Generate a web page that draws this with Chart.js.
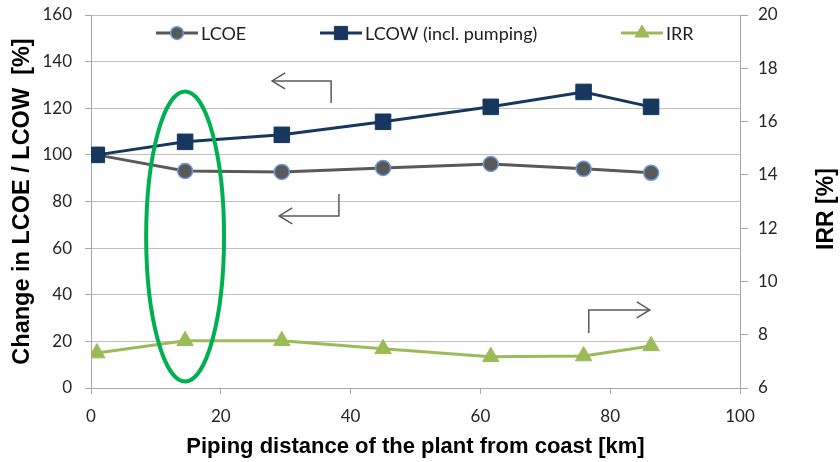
<!DOCTYPE html>
<html>
<head>
<meta charset="utf-8">
<script src="https://cdn.jsdelivr.net/npm/chart.js@4/dist/chart.umd.min.js"></script>
<style>
html,body{margin:0;padding:0;background:#fff;}
#wrap{width:840px;height:462px;position:relative;}
</style>
</head>
<body>
<div id="wrap"><canvas id="c" width="840" height="462"></canvas></div>
<script>
// ---- data ----
const distanceKm = [0.9, 14.5, 29.4, 45.0, 61.6, 75.9, 86.3];
const lcoeChange = [100, 93.1, 92.7, 94.4, 96.1, 94.0, 92.3];
const lcowChange = [100, 105.6, 108.6, 114.2, 120.6, 127.0, 120.6];
const irrPct = [7.31, 7.77, 7.77, 7.47, 7.17, 7.20, 7.58];
const seriesNames = ['LCOE', 'LCOW (incl. pumping)', 'IRR'];
const xTitle = 'Piping distance of the plant from coast [km]';
const yLeftTitle = 'Change in LCOE / LCOW  [%]';
const yRightTitle = 'IRR [%]';
// annotation shapes in data units (left axis)
const ellipseSpec = {cx: 14.5, cy: 65, rx: 6.0, ry: 62.2};
const arrowSpecs = [
  {x: 37.0, y0: 122.3, y1: 131.7, xEnd: 27.9},
  {x: 38.2, y0: 83.2, y1: 73.8, xEnd: 29.0},
  {x: 76.7, y0: 23.6, y1: 33.5, xEnd: 86.1}
];

const pts = (ys) => distanceKm.map((x, i) => ({x: x, y: ys[i]}));

const colLCOE = '#595959', colLCOW = '#17375e', colIRR = '#9bbb59';
const tickFont = {family: 'Lato', size: 17};
const axisGray = '#a6a6a6';
const legendX = [156, 320, 621];

const annotations = {
  id: 'annotations',
  afterDatasetsDraw(chart) {
    const ctx = chart.ctx, xs = chart.scales.x, ys = chart.scales.y;
    ctx.save();
    ctx.strokeStyle = '#00b050';
    ctx.lineWidth = 4;
    ctx.beginPath();
    const cx = xs.getPixelForValue(ellipseSpec.cx), cy = ys.getPixelForValue(ellipseSpec.cy);
    const rx = Math.abs(xs.getPixelForValue(ellipseSpec.cx + ellipseSpec.rx) - cx);
    const ry = Math.abs(ys.getPixelForValue(ellipseSpec.cy + ellipseSpec.ry) - cy);
    ctx.ellipse(cx, cy, rx, ry, 0, 0, Math.PI * 2);
    ctx.stroke();
    ctx.strokeStyle = '#595959';
    ctx.lineWidth = 1.5;
    arrowSpecs.forEach(a => {
      const px = xs.getPixelForValue(a.x), py0 = ys.getPixelForValue(a.y0), py1 = ys.getPixelForValue(a.y1);
      const pe = xs.getPixelForValue(a.xEnd);
      ctx.beginPath();
      ctx.moveTo(px, py0); ctx.lineTo(px, py1); ctx.lineTo(pe, py1);
      ctx.stroke();
      const dir = pe < px ? 1 : -1;
      ctx.beginPath();
      ctx.moveTo(pe + dir * 13, py1 - 8); ctx.lineTo(pe, py1); ctx.lineTo(pe + dir * 13, py1 + 8);
      ctx.stroke();
    });
    ctx.restore();
  },
  afterDraw(chart) {
    const ctx = chart.ctx, ca = chart.chartArea;
    const ly = ca.top + 18;
    chart.data.datasets.forEach((ds, i) => {
      const x = legendX[i];
      ctx.save();
      ctx.strokeStyle = ds.borderColor;
      ctx.lineWidth = 3;
      ctx.beginPath(); ctx.moveTo(x, ly); ctx.lineTo(x + 42, ly); ctx.stroke();
      ctx.fillStyle = ds.pointBackgroundColor;
      ctx.strokeStyle = ds.pointBorderColor;
      ctx.lineWidth = ds.pointBorderWidth;
      Chart.helpers.drawPoint(ctx, {pointStyle: ds.pointStyle, radius: ds.pointRadius * 0.85, borderWidth: ds.pointBorderWidth}, x + 21, ly);
      ctx.font = '18px Lato';
      ctx.textBaseline = 'middle';
      ctx.fillStyle = '#222';
      ctx.fillText(ds.label, x + 45, ly + 1);
      ctx.restore();
    });
    ctx.save();
    ctx.translate(827, 209);
    ctx.rotate(-Math.PI / 2);
    ctx.textAlign = 'center';
    ctx.textBaseline = 'middle';
    ctx.font = 'bold 23px "Liberation Sans"';
    ctx.fillStyle = '#000';
    ctx.fillText(yRightTitle, 0, 0);
    ctx.restore();
  }
};

function fixVertical(w) {
  return function (s) { s.width = w; s.paddingTop = 0; s.paddingBottom = 0; };
}

new Chart(document.getElementById('c'), {
  type: 'line',
  data: {
    datasets: [
      {label: seriesNames[0], data: pts(lcoeChange), yAxisID: 'y', order: 1, borderColor: colLCOE, borderWidth: 3,
       pointStyle: 'circle', pointRadius: 7.5, pointBackgroundColor: colLCOE, pointBorderColor: '#6d9ad6', pointBorderWidth: 1.5, tension: 0},
      {label: seriesNames[1], data: pts(lcowChange), yAxisID: 'y', order: 0, borderColor: colLCOW, borderWidth: 3,
       pointStyle: 'rect', pointRadius: 11, pointBackgroundColor: colLCOW, pointBorderColor: colLCOW, pointBorderWidth: 1, tension: 0},
      {label: seriesNames[2], data: pts(irrPct), yAxisID: 'y1', order: 2, borderColor: colIRR, borderWidth: 3,
       pointStyle: 'triangle', pointRadius: 9.5, pointBackgroundColor: colIRR, pointBorderColor: colIRR, pointBorderWidth: 1, tension: 0}
    ]
  },
  options: {
    responsive: false,
    animation: false,
    layout: {padding: {top: 15, left: 0, right: 0, bottom: 0}},
    plugins: {legend: {display: false}, tooltip: {enabled: false}},
    scales: {
      x: {
        type: 'linear', min: 0, max: 100,
        ticks: {stepSize: 20, font: tickFont, color: '#262626', padding: 12, maxRotation: 0},
        grid: {drawOnChartArea: false, tickLength: 6, tickColor: axisGray},
        border: {color: axisGray, width: 1},
        title: {display: true, text: xTitle, font: {family: 'Liberation Sans', weight: 'bold', size: 22}, color: '#000', padding: {top: 0, bottom: 2}},
        afterFit(s) { s.height = 74; s.paddingLeft = 0; s.paddingRight = 0; }
      },
      y: {
        position: 'left', min: 0, max: 160,
        ticks: {stepSize: 20, font: tickFont, color: '#262626', padding: 13},
        grid: {color: '#bfbfbf', tickLength: 6, tickColor: axisGray},
        border: {color: axisGray, width: 1},
        title: {display: true, text: yLeftTitle, font: {family: 'Liberation Sans', weight: 'bold', size: 23.5}, color: '#000', padding: {top: 8, bottom: 0}},
        afterFit: fixVertical(91)
      },
      y1: {
        position: 'right', min: 6, max: 20,
        ticks: {stepSize: 2, font: tickFont, color: '#262626', padding: 10},
        grid: {drawOnChartArea: false, tickLength: 8, tickColor: axisGray},
        border: {color: axisGray, width: 1},
        afterFit: fixVertical(100)
      }
    }
  },
  plugins: [annotations]
});
</script>
</body>
</html>
